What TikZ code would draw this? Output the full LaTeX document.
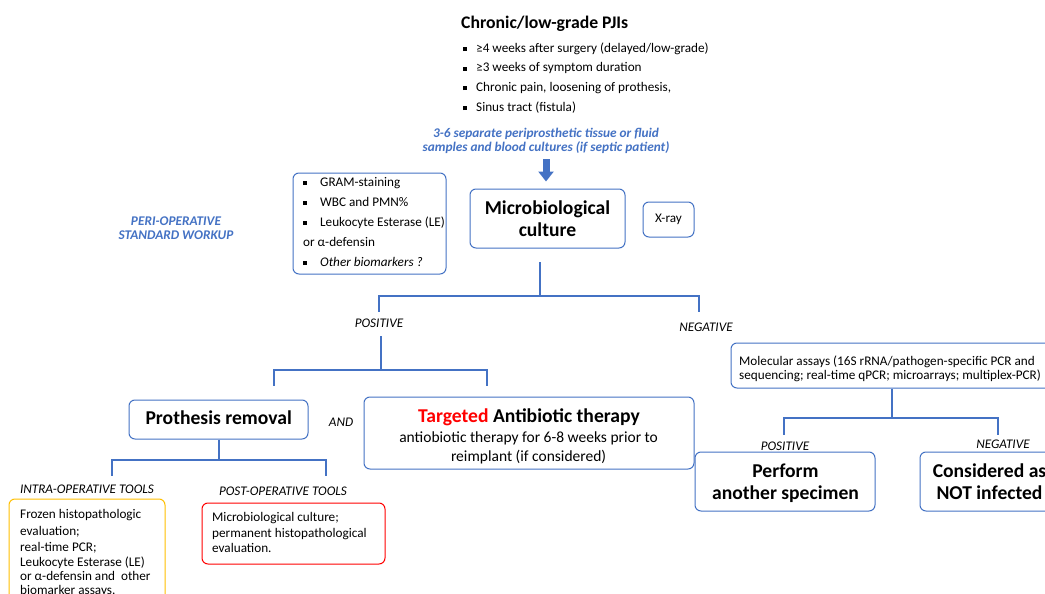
\documentclass[tikz,border=0pt]{standalone}
\usepackage{fontspec}
\setmainfont{Carlito}
\usetikzlibrary{arrows.meta}
\definecolor{myblue}{RGB}{68,114,196}
\definecolor{myyellow}{RGB}{255,192,0}
\definecolor{myred}{RGB}{255,0,0}
\newcommand{\sqb}[1][13pt]{\makebox[#1][l]{\raisebox{1.1pt}{\rule{4pt}{4pt}}}}
\begin{document}
\begin{tikzpicture}[x=1pt,y=-1pt,
  box/.style={draw=myblue, line width=1pt, rounded corners=6pt, inner sep=0pt},
  conn/.style={draw=myblue, line width=1.3pt},
  txt/.style={inner sep=0pt, font=\fontsize{13.2}{15}\selectfont},
  lab/.style={inner sep=0pt, font=\fontsize{13.2}{15}\selectfont\itshape},
  head/.style={inner sep=0pt, font=\fontsize{19.6}{23}\selectfont\bfseries},
  bluelab/.style={inner sep=0pt, text=myblue, font=\fontsize{13.3}{15}\selectfont\bfseries\itshape},
  bigarrow/.style={draw=myblue, line width=7pt, -{Triangle[width=15pt,length=10pt]}}]
\clip (0,0) rectangle (1045,594);
\fill[white] (0,0) rectangle (1045,594);

% header
\node[inner sep=0pt, font=\fontsize{17.7}{21}\selectfont\bfseries, anchor=base west] (title) at (461,28.5) {Chronic/low-grade PJIs};
\node[txt, anchor=base west] (c1) at (463,52.3) {\sqb ≥4 weeks after surgery (delayed/low-grade)};
\node[txt, anchor=base west] (c2) at (463,71.8) {\sqb ≥3 weeks of symptom duration};
\node[txt, anchor=base west] (c3) at (463,91.3) {\sqb Chronic pain, loosening of prothesis,};
\node[txt, anchor=base west] (c4) at (463,111.3) {\sqb Sinus tract (fistula)};

\node[bluelab, anchor=base] (bt1) at (546,137.3) {3-6 separate periprosthetic tissue or fluid};
\node[bluelab, anchor=base] (bt2) at (546,151.3) {samples and blood cultures (if septic patient)};

% peri-operative workup
\node[bluelab, anchor=center] (peri1) at (176,221) {PERI-OPERATIVE};
\node[bluelab, anchor=center] (peri2) at (176,235) {STANDARD WORKUP};

\node[box, minimum width=153, minimum height=101] (labs) at (369.5,223.5) {};
\node[txt, anchor=base west] (l1) at (303,186.3) {\sqb[14pt] GRAM-staining};
\node[txt, anchor=base west] (l2) at (303,206.3) {\sqb[14pt] WBC and PMN\%};
\node[txt, anchor=base west] (l3) at (303,226.3) {\sqb[14pt] Leukocyte Esterase (LE)};
\node[txt, anchor=base west] (l4) at (303,246.3) {or α-defensin};
\node[txt, anchor=base west] (l5) at (303,266.3) {\sqb[14pt] \textit{Other biomarkers ?}};

\node[box, minimum width=155, minimum height=59] (micro) at (547.5,218.5) {};
\node[head, anchor=base] (m1) at (547.5,214.3) {Microbiological};
\node[head, anchor=base] (m2) at (547.5,236.3) {culture};

\node[box, minimum width=51, minimum height=35, font=\fontsize{13.2}{15}\selectfont] (xray) at (668.5,219.5) {X-ray};

\draw[bigarrow, shorten <=5.5pt, shorten >=7pt] (bt2.south) -- (bt2.south |- micro.north);

% first branching
\coordinate (mb) at (540,262);
\coordinate (mh) at (540,296);
\coordinate (pos1) at (379,312);
\coordinate (neg1) at (699,312);
\draw[conn] (mb) -- (mh) -| (pos1);
\draw[conn] (mh) -| (neg1);
\node[lab] (posl) at (379,323) {POSITIVE};
\node[lab] (negl) at (706,327) {NEGATIVE};

% positive branch
\coordinate (pb) at (381,336);
\coordinate (ph) at (381,370);
\coordinate (pl) at (274,386);
\coordinate (pr) at (487,386);
\draw[conn] (pb) -- (ph) -| (pl);
\draw[conn] (ph) -| (pr);

\node[box, minimum width=179, minimum height=39] (prot) at (218.5,419.5) {};
\node[head, anchor=base] (pt) at (218.7,424.3) {Prothesis removal};
\node[lab] (and) at (341,422) {AND};

\node[box, minimum width=330, minimum height=72] (targ) at (529,433) {};
\node[head, anchor=base] (tt) at (529,422.3) {\textcolor{myred}{Targeted} Antibiotic therapy};
\node[inner sep=0pt, font=\fontsize{15.5}{18}\selectfont, anchor=base] (tt2) at (528.6,442) {antiobiotic therapy for 6-8 weeks prior to};
\node[inner sep=0pt, font=\fontsize{15.5}{18}\selectfont, anchor=base] (tt3) at (528.6,461) {reimplant (if considered)};

% prothesis branch
\coordinate (rh) at (219,460);
\coordinate (rl) at (112,476);
\coordinate (rr) at (326,476);
\draw[conn] (prot.south -| rh) -- (rh) -| (rl);
\draw[conn] (rh) -| (rr);

\node[lab] (intra) at (87,489) {INTRA-OPERATIVE TOOLS};
\node[lab] (post) at (283,491) {POST-OPERATIVE TOOLS};

\node[box, draw=myyellow, minimum width=156, minimum height=111] (yel) at (87,554.5) {};
\node[txt, anchor=base west] (y1) at (20,518.3) {Frozen histopathologic};
\node[txt, anchor=base west] (y2) at (20,535.3) {evaluation;};
\node[txt, anchor=base west] (y3) at (20,551.1) {real-time PCR;};
\node[txt, anchor=base west] (y4) at (20,566.1) {Leukocyte Esterase (LE)};
\node[txt, anchor=base west] (y5) at (20,580.6) {or α-defensin and\ \ other};
\node[txt, anchor=base west] (y6) at (20,594.6) {biomarker assays.};

\node[box, draw=myred, minimum width=183, minimum height=61] (red) at (293.5,533.5) {};
\node[txt, anchor=base west] (r1) at (212,521.3) {Microbiological culture;};
\node[txt, anchor=base west] (r2) at (212,537.3) {permanent histopathological};
\node[txt, anchor=base west] (r3) at (212,552.3) {evaluation.};

% negative branch
\node[box, minimum width=322, minimum height=45] (mol) at (892,365.5) {};
\node[txt, anchor=base west] (mo1) at (739,365.2) {Molecular assays (16S rRNA/pathogen-specific PCR and};
\node[txt, anchor=base west] (mo2) at (739,379.2) {sequencing; real-time qPCR; microarrays; multiplex-PCR)};

\coordinate (qh) at (892,418);
\coordinate (ql) at (784,435);
\coordinate (qr) at (998,435);
\draw[conn] (mol.south) -- (qh) -| (ql);
\draw[conn] (qh) -| (qr);
\node[lab] (pos2) at (785,446) {POSITIVE};
\node[lab] (neg2) at (1003,444) {NEGATIVE};

\node[box, minimum width=180, minimum height=59] (perf) at (785,481.5) {};
\node[head, anchor=base] (pf1) at (785.5,477.3) {Perform};
\node[head, anchor=base] (pf2) at (785.5,499.3) {another specimen};

\node[box, minimum width=156, minimum height=59] (cons) at (998,481.5) {};
\node[head, anchor=base] (cs1) at (989.5,477.3) {Considered as};
\node[head, anchor=base] (cs2) at (989.5,499.3) {NOT infected};
\end{tikzpicture}
\end{document}
